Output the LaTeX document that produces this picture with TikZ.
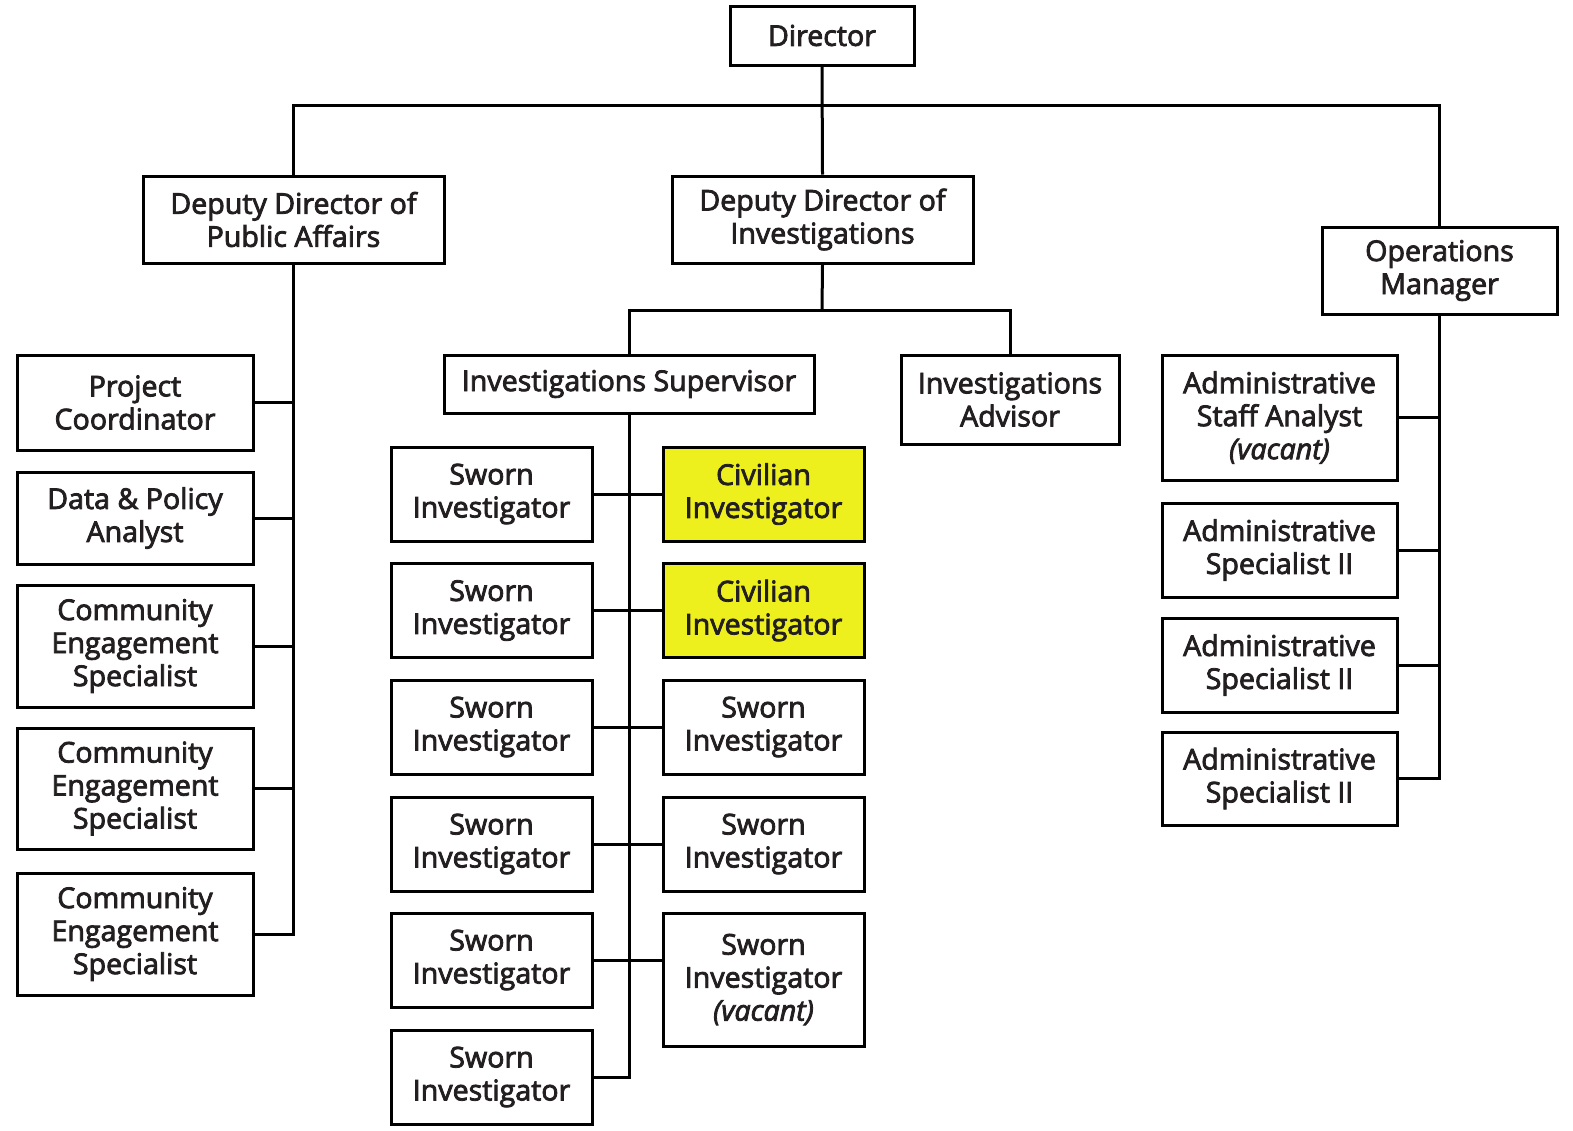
\documentclass[tikz,border=0pt]{standalone}
\usepackage{fontspec}
\setmainfont{Open Sans}[UprightFeatures={FakeBold=2.8}, ItalicFeatures={FakeBold=2.8}]
\definecolor{txt}{HTML}{231F20}
\definecolor{hl}{RGB}{238,240,30}
\begin{document}
\begin{tikzpicture}[x=0.5pt,y=-0.5pt,
  box/.style={draw=black, line width=1.5pt, fill=white, align=center, inner sep=0pt,
    text=txt, font=\fontsize{14.3}{16.5}\selectfont},
  civ/.style={box, fill=hl},
  wire/.style={draw=black, line width=1.5pt},
  w201/.style={minimum width=100.5pt},
  w235/.style={minimum width=117.5pt},
  w236/.style={minimum width=118pt},
  h94/.style={minimum height=47pt}]
\useasboundingbox (0,0) rectangle (1573,1130);
\fill[white] (0,0) rectangle (1573,1130);
% top level
\node[box, minimum width=92pt, minimum height=29.5pt] (dir) at (822,35.5) {Director};
\node[box, minimum width=150.5pt, minimum height=43.5pt] (ddpa) at (293.5,219.5) {Deputy Director of\\Public Affairs};
\node[box, minimum width=150.5pt, minimum height=43.5pt] (ddi) at (822.5,219.5) {Deputy Director of\\Investigations};
\node[box, w235, minimum height=43.5pt] (om) at (1439.5,270.5) {Operations\\Manager};
% public affairs
\node[box, w236, minimum height=47.5pt] (pc) at (135,402.5) {Project\\Coordinator};
\node[box, w236, minimum height=46pt] (dpa) at (135,518) {Data \& Policy\\Analyst};
\node[box, w236, minimum height=61pt] (ces1) at (135,646) {Community\\Engagement\\Specialist};
\node[box, w236, minimum height=60.5pt] (ces2) at (135,788.5) {Community\\Engagement\\Specialist};
\node[box, w236, minimum height=61pt] (ces3) at (135,934) {Community\\Engagement\\Specialist};
% investigations
\node[box, minimum width=185pt, minimum height=29pt] (isup) at (629,384) {Investigations Supervisor};
\node[box, minimum width=109pt, minimum height=44.5pt] (iadv) at (1010,399.5) {Investigations\\Advisor};
\node[box, w201, h94] (sl1) at (491.5,494) {Sworn\\Investigator};
\node[box, w201, h94] (sl2) at (491.5,610.5) {Sworn\\Investigator};
\node[box, w201, h94] (sl3) at (491.5,727) {Sworn\\Investigator};
\node[box, w201, h94] (sl4) at (491.5,844) {Sworn\\Investigator};
\node[box, w201, h94] (sl5) at (491.5,960) {Sworn\\Investigator};
\node[box, w201, h94] (sl6) at (491.5,1077) {Sworn\\Investigator};
\node[civ, w201, h94] (sr1) at (763.5,494) {Civilian\\Investigator};
\node[civ, w201, h94] (sr2) at (763.5,610.5) {Civilian\\Investigator};
\node[box, w201, h94] (sr3) at (763.5,727) {Sworn\\Investigator};
\node[box, w201, h94] (sr4) at (763.5,844) {Sworn\\Investigator};
\node[box, w201, minimum height=66.5pt] (sr5) at (763.5,979.5) {Sworn\\Investigator\\\textit{(vacant)}};
% operations
\node[box, w235, minimum height=62.5pt] (asa) at (1279.5,417.5) {Administrative\\Staff Analyst\\\textit{(vacant)}};
\node[box, w235, h94] (as1) at (1279.5,550) {Administrative\\Specialist II};
\node[box, w235, h94] (as2) at (1279.5,665) {Administrative\\Specialist II};
\node[box, w235, minimum height=46.5pt] (as3) at (1279.5,778.5) {Administrative\\Specialist II};
% connectors
\coordinate (bar) at (822,105);
\coordinate (ddibar) at (822,310);
\draw[wire] (dir.south) -- (ddi.north);
\draw[wire] (ddpa.north) |- (bar) -| (om.north);
\draw[wire] (ddi.south) -- (ddibar);
\draw[wire] (isup.north) |- (ddibar) -| (iadv.north);
% public affairs spine
\draw[wire] (ddpa.south) -- (ddpa.south |- ces3.east) -- (ces3.east);
\foreach \n in {pc,dpa,ces1,ces2}
  \draw[wire] (\n.east) -- (\n.east -| ddpa.south);
% investigations spine
\draw[wire] (isup.south) -- (isup.south |- sl6.east) -- (sl6.east);
\foreach \k in {1,2,3,4}
  \draw[wire] (sl\k.east) -- (sr\k.west);
\draw[wire] (sl5.east) -- (sl5.east -| sr5.west);
% operations spine
\draw[wire] (om.south) -- (om.south |- as3.east) -- (as3.east);
\foreach \n in {asa,as1,as2}
  \draw[wire] (\n.east) -- (\n.east -| om.south);
\end{tikzpicture}
\end{document}
